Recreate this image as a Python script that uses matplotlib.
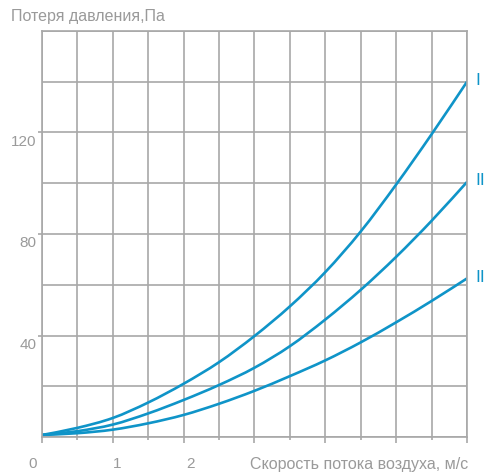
import matplotlib
matplotlib.use("Agg")
from matplotlib import pyplot as plt
from matplotlib.path import Path
from matplotlib.patches import PathPatch
from matplotlib.transforms import ScaledTranslation
import numpy as np

# air speed, m/s
speed = [0, 0.5, 1, 1.5, 2, 2.5, 3, 3.5, 4, 4.5, 5, 5.5, 6]
# pressure loss, Pa
loss_1 = [0.8, 3.6, 7.5, 13.6, 21, 29.5, 39.8, 51.5, 65, 81, 99.5, 119.3, 140]
loss_2 = [0.8, 2.3, 4.9, 9.3, 14.6, 20.5, 27.3, 35.8, 46.3, 58, 71, 85.2, 100.5]
loss_3 = [0.8, 1.5, 2.9, 5.4, 8.7, 13.1, 18.2, 24, 30.2, 37.3, 45.2, 53.6, 62.5]
curve_names = ["I", "II", "II"]

x_ticks = [0, 1, 2, 3, 4, 5, 6]
x_ticklabels = ["0", "1", "2", "", "", "", ""]
y_ticks = [40, 80, 120]
y_ticklabels = ["40", "80", "120"]

blue = "#0f94c8"
grey = "#a8a8a8"
text_grey = "#9a9a9a"


def smooth_path(xs, ys):
    # catmull-rom through the points, drawn as cubic bezier segments
    pts = np.column_stack([xs, ys]).astype(float)
    verts = [pts[0]]
    codes = [Path.MOVETO]
    for i in range(len(pts) - 1):
        p0 = pts[i - 1] if i > 0 else pts[i]
        p1 = pts[i]
        p2 = pts[i + 1]
        p3 = pts[i + 2] if i + 2 < len(pts) else pts[i + 1]
        c1 = p1 + (p2 - p0) / 6
        c2 = p2 - (p3 - p1) / 6
        verts += [c1, c2, p2]
        codes += [Path.CURVE4] * 3
    return Path(verts, codes)


plt.rcParams['font.family'] = ['Liberation Sans', 'DejaVu Sans']

fig = plt.figure(figsize=(4.85, 4.72), dpi=100)
ax = fig.add_axes([42/485, 1-437/472, (467-42)/485, (437-31)/472])

ax.set_xlim(0, 6)
ax.set_ylim(0, 160)

ax.set_xticks(x_ticks)
ax.set_xticks(np.arange(0, 6.01, 0.5), minor=True)
ax.set_xticklabels(x_ticklabels)
ax.set_yticks(y_ticks)
ax.set_yticks(np.arange(0, 161, 20), minor=True)
ax.set_yticklabels(y_ticklabels)

ax.grid(True, which="both", color=grey, linewidth=1.2)
ax.set_axisbelow(True)
for s in ax.spines.values():
    s.set_color(grey)
    s.set_linewidth(1.2)

ax.tick_params(axis="x", which="major", length=4.5, width=1.2, color=grey,
               labelcolor=text_grey, labelsize=11, pad=10)
ax.tick_params(axis="x", which="minor", length=2.2, width=1.2, color=grey)
ax.tick_params(axis="y", which="major", length=3, width=1.2, color=grey,
               labelcolor=text_grey, labelsize=11, pad=1)
ax.tick_params(axis="y", which="minor", length=0)

# nudge tick labels like in the original layout
x_shift = [-9, 4, 7, 0, 0, 0, 0]
for lab, dx in zip(ax.get_xticklabels(), x_shift):
    lab.set_transform(lab.get_transform() + ScaledTranslation(dx/100, 0, fig.dpi_scale_trans))
for lab in ax.get_yticklabels():
    lab.set_transform(lab.get_transform() + ScaledTranslation(0, -8/100, fig.dpi_scale_trans))

for vals, name, dx in zip([loss_1, loss_2, loss_3], curve_names, [11, 13, 13]):
    ax.add_patch(PathPatch(smooth_path(speed, vals), facecolor="none",
                           edgecolor=blue, linewidth=1.9, capstyle="round"))
    ax.annotate(name, xy=(speed[-1], vals[-1]), xytext=(dx, 1),
                textcoords="offset pixels", ha="center", va="center",
                color=blue, fontsize=12.5)

fig.text(11/485, 1-17/472, "Потеря давления,Па", color=text_grey,
         fontsize=11.5, ha="left", va="center")
fig.text(468/485, 1-464/472, "Скорость потока воздуха, м/с", color=text_grey,
         fontsize=11.5, ha="right", va="center")

fig.savefig("out.png", dpi=100)
